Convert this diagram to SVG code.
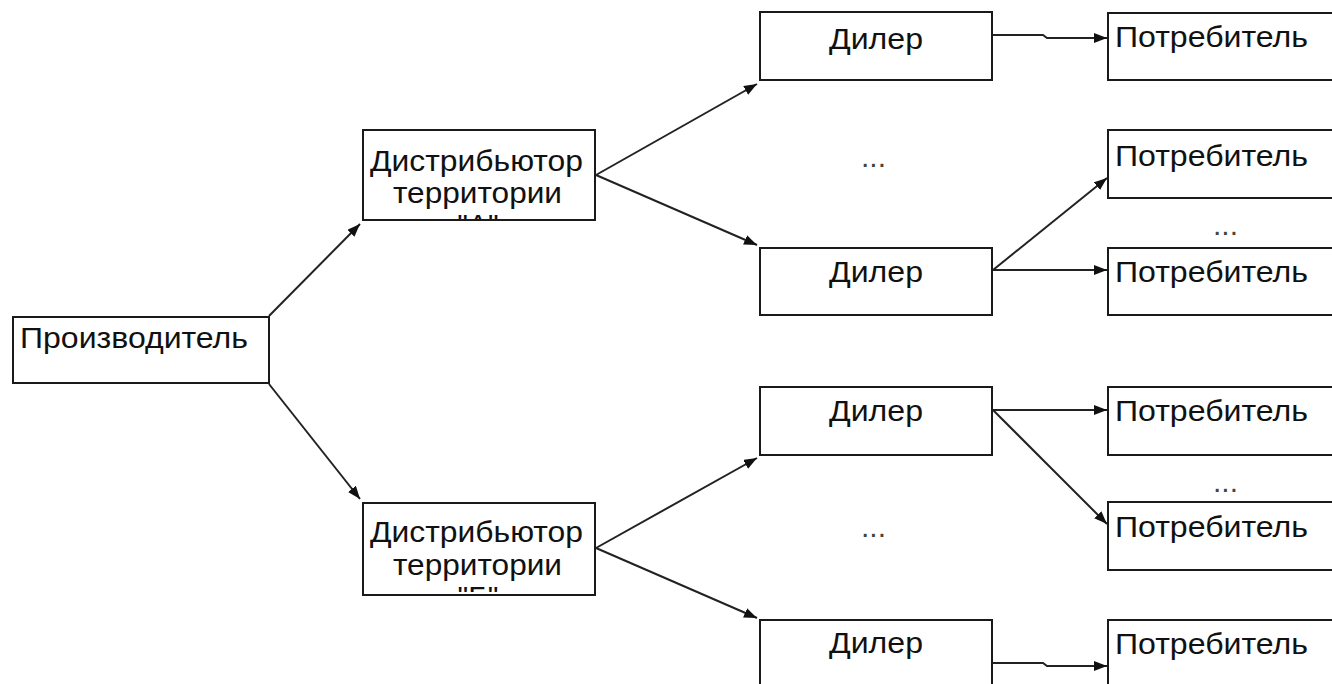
<svg xmlns="http://www.w3.org/2000/svg" width="1332" height="684" viewBox="0 0 1332 684">
<style>
.box{fill:#fff;stroke:#1a1a1a;stroke-width:2}
.t{font-family:"Liberation Sans",Arial,sans-serif;font-size:30px;fill:#111}
.c{fill:none;stroke:#222;stroke-width:2}
.dots{font-family:"Liberation Sans",Arial,sans-serif;font-size:30px;fill:#444}
</style>
<defs>
<marker id="ah" markerUnits="userSpaceOnUse" markerWidth="14" markerHeight="12" refX="13" refY="5" orient="auto">
<path d="M0,0 L13,5 L0,10 z" fill="#111"/>
</marker>
<clipPath id="cA"><rect x="363" y="130" width="232" height="89"/></clipPath>
<clipPath id="cB"><rect x="363" y="503" width="232" height="89"/></clipPath>
</defs>
<rect width="1332" height="684" fill="#fff"/>
<g id="connectors">
<line class="c" x1="269" y1="316" x2="360" y2="224" marker-end="url(#ah)"/>
<line class="c" x1="269" y1="384" x2="360" y2="499" marker-end="url(#ah)"/>
<line class="c" x1="596" y1="175" x2="757" y2="84" marker-end="url(#ah)"/>
<line class="c" x1="596" y1="175" x2="757" y2="245" marker-end="url(#ah)"/>
<line class="c" x1="596" y1="548" x2="757" y2="458" marker-end="url(#ah)"/>
<line class="c" x1="596" y1="548" x2="757" y2="618" marker-end="url(#ah)"/>
<polyline class="c" points="992,35 1043,35 1047,38 1107,38" marker-end="url(#ah)"/>
<line class="c" x1="993" y1="270" x2="1107" y2="178" marker-end="url(#ah)"/>
<line class="c" x1="993" y1="270" x2="1107" y2="270" marker-end="url(#ah)"/>
<line class="c" x1="993" y1="410" x2="1107" y2="410" marker-end="url(#ah)"/>
<line class="c" x1="993" y1="410" x2="1107" y2="524" marker-end="url(#ah)"/>
<polyline class="c" points="992,663 1043,663 1047,666 1107,666" marker-end="url(#ah)"/>
</g>
<g id="producer">
<rect class="box" x="13" y="317" width="256" height="66"/>
<text class="t" x="20" y="348" textLength="228" lengthAdjust="spacingAndGlyphs">Производитель</text>
</g>
<g id="distributor-a">
<rect class="box" x="363" y="130" width="232" height="90"/>
<text class="t" x="370" y="171" textLength="213" lengthAdjust="spacingAndGlyphs">Дистрибьютор</text>
<text class="t" x="393" y="203" textLength="169" lengthAdjust="spacingAndGlyphs">территории</text>
<text class="t" x="478" y="235" text-anchor="middle" clip-path="url(#cA)">"А"</text>
</g>
<g id="distributor-b">
<rect class="box" x="363" y="503" width="232" height="92"/>
<text class="t" x="370" y="542" textLength="213" lengthAdjust="spacingAndGlyphs">Дистрибьютор</text>
<text class="t" x="393" y="575" textLength="169" lengthAdjust="spacingAndGlyphs">территории</text>
<text class="t" x="478" y="607" text-anchor="middle" clip-path="url(#cB)">"Б"</text>
</g>
<g id="dealer-1">
<rect class="box" x="760" y="12" width="232" height="68"/>
<text class="t" x="876" y="49" text-anchor="middle" textLength="94" lengthAdjust="spacingAndGlyphs">Дилер</text>
</g>
<g id="dealer-2">
<rect class="box" x="760" y="248" width="232" height="67"/>
<text class="t" x="876" y="282" text-anchor="middle" textLength="94" lengthAdjust="spacingAndGlyphs">Дилер</text>
</g>
<g id="dealer-3">
<rect class="box" x="760" y="387" width="232" height="68"/>
<text class="t" x="876" y="421" text-anchor="middle" textLength="94" lengthAdjust="spacingAndGlyphs">Дилер</text>
</g>
<g id="dealer-4">
<rect class="box" x="760" y="620" width="232" height="70"/>
<text class="t" x="876" y="653" text-anchor="middle" textLength="94" lengthAdjust="spacingAndGlyphs">Дилер</text>
</g>
<g id="consumer-1">
<rect class="box" x="1108" y="13" width="240" height="67"/>
<text class="t" x="1115" y="47" textLength="193" lengthAdjust="spacingAndGlyphs">Потребитель</text>
</g>
<g id="consumer-2">
<rect class="box" x="1108" y="130" width="240" height="68"/>
<text class="t" x="1115" y="166" textLength="193" lengthAdjust="spacingAndGlyphs">Потребитель</text>
</g>
<g id="consumer-3">
<rect class="box" x="1108" y="248" width="240" height="67"/>
<text class="t" x="1115" y="282" textLength="193" lengthAdjust="spacingAndGlyphs">Потребитель</text>
</g>
<g id="consumer-4">
<rect class="box" x="1108" y="387" width="240" height="68"/>
<text class="t" x="1115" y="421" textLength="193" lengthAdjust="spacingAndGlyphs">Потребитель</text>
</g>
<g id="consumer-5">
<rect class="box" x="1108" y="502" width="240" height="68"/>
<text class="t" x="1115" y="537" textLength="193" lengthAdjust="spacingAndGlyphs">Потребитель</text>
</g>
<g id="consumer-6">
<rect class="box" x="1108" y="620" width="240" height="70"/>
<text class="t" x="1115" y="654" textLength="193" lengthAdjust="spacingAndGlyphs">Потребитель</text>
</g>
<g id="ellipses">
<text class="dots" x="861" y="167">...</text>
<text class="dots" x="1213" y="235">...</text>
<text class="dots" x="1213" y="492">...</text>
<text class="dots" x="861" y="537">...</text>
</g>
</svg>
